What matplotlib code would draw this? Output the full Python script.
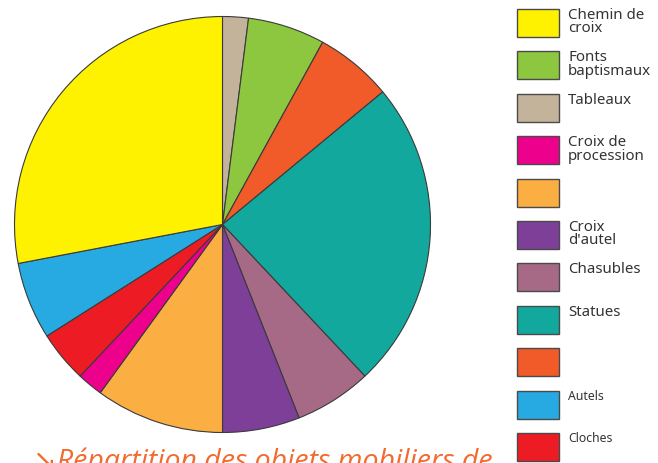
import matplotlib.pyplot as plt
from matplotlib.patches import Rectangle

# slices, clockwise from 12 o'clock
slice_values = [1, 3, 3, 12, 3, 3, 5, 1, 2, 3, 14]
slice_colors = ['#c4b39b', '#8dc63f', '#f15a29', '#12a89d', '#a66a86',
                '#7d3f98', '#fbae42', '#ec008c', '#ed1c24', '#27aae1', '#fff200']

# legend entries, top to bottom
legend_labels = ['Chemin de\ncroix', 'Fonts\nbaptismaux', 'Tableaux', 'Croix de\nprocession',
                 '', "Croix\nd'autel", 'Chasubles', 'Statues', '', 'Autels', 'Cloches']
legend_colors = ['#fff200', '#8dc63f', '#c4b39b', '#ec008c', '#fbae42', '#7d3f98',
                 '#a66a86', '#12a89d', '#f15a29', '#27aae1', '#ed1c24']
legend_sizes = [10.8, 10.8, 10.8, 10.8, 10.8, 10.8, 10.8, 10.8, 10.8, 8.8, 8.8]

title = '\u2198R\u00e9partition des objets mobiliers de'

W, H = 658, 464
fig = plt.figure(figsize=(W / 100, H / 100), dpi=100)

cx, cy, r = 222.5, 225.5, 208
ax = fig.add_axes([(cx - r) / W, (H - cy - r) / H, 2 * r / W, 2 * r / H])
ax.pie(slice_values, colors=slice_colors, startangle=90, counterclock=False,
       wedgeprops=dict(edgecolor='#3a3a3a', linewidth=0.8))
ax.set_xlim(-1.0, 1.0)
ax.set_ylim(-1.0, 1.0)
ax.set_aspect('equal')
ax.axis('off')

# legend drawn by hand (label sizes differ)
top0, step = 10, 42.4
for i, (lab, col, fs) in enumerate(zip(legend_labels, legend_colors, legend_sizes)):
    top = top0 + i * step
    fig.add_artist(Rectangle((517 / W, 1 - (top + 28) / H), 42 / W, 28 / H,
                             transform=fig.transFigure, facecolor=col,
                             edgecolor='#4a4a4a', linewidth=1.0))
    if lab:
        fig.text(568 / W, 1 - (top - 2) / H, lab, ha='left', va='top',
                 fontsize=fs, family='Noto Sans', color='#333333', linespacing=0.85)

fig.text(33 / W, 1 - 469 / H, title, ha='left', va='baseline', fontsize=20.5,
         style='italic', family=['Open Sans', 'DejaVu Sans'], color='#f26a2e')

fig.savefig('out.png', dpi=100)
